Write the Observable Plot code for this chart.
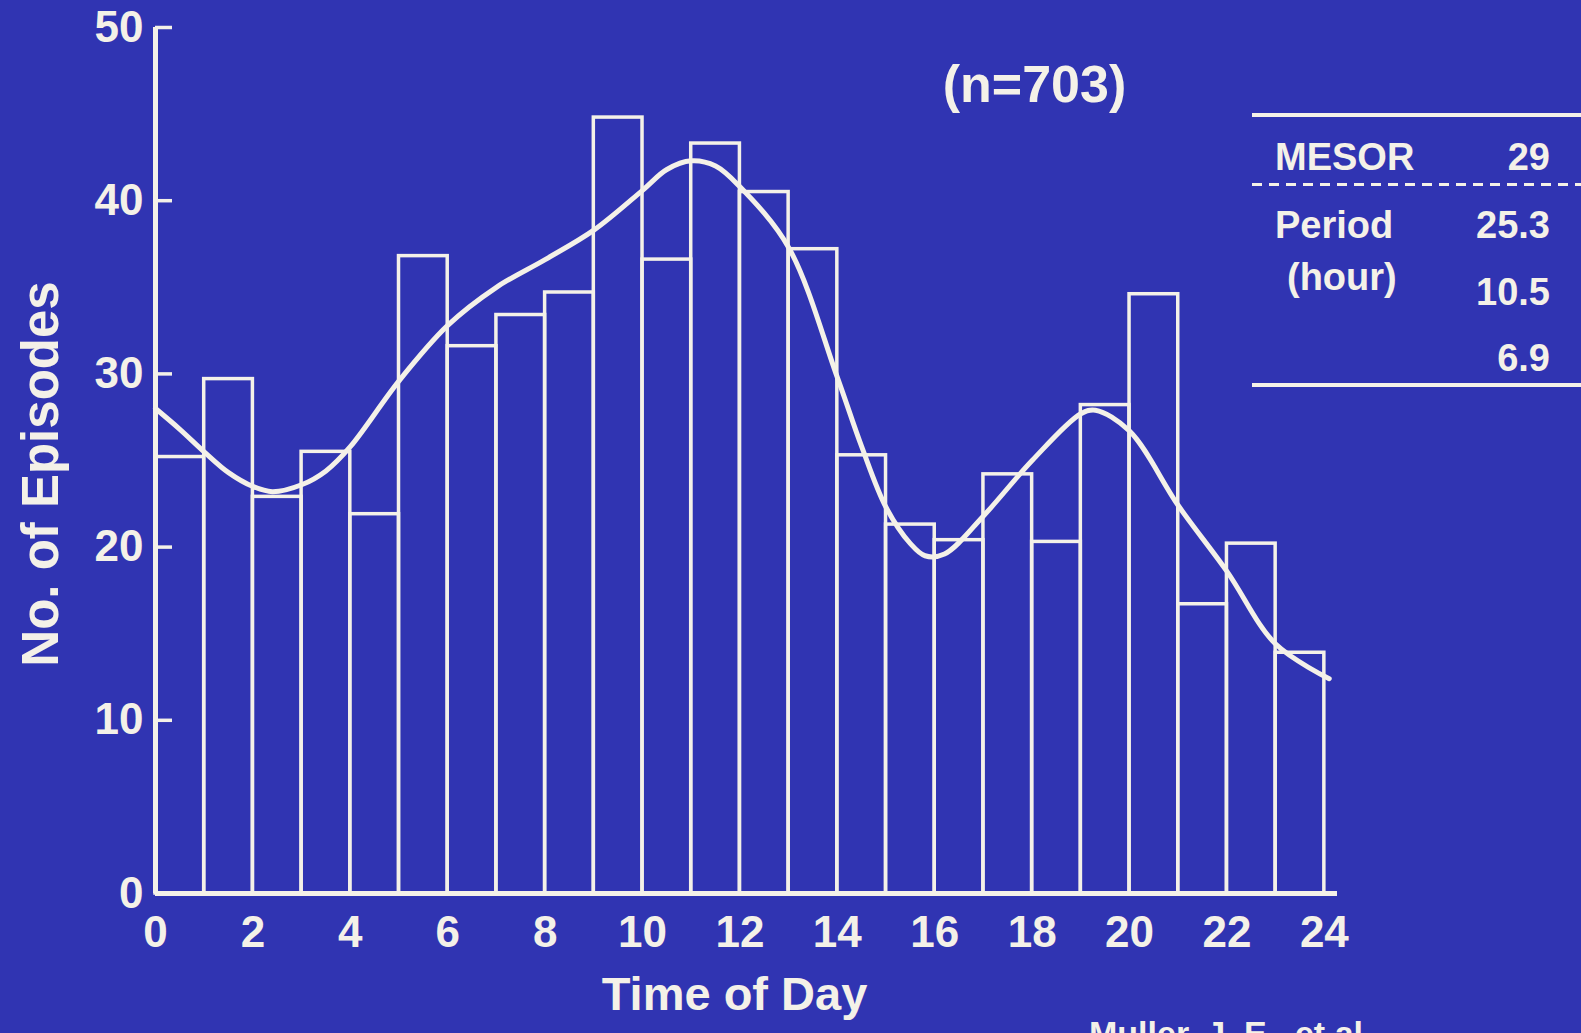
<!DOCTYPE html>
<html><head><meta charset="utf-8">
<script src="https://cdn.jsdelivr.net/npm/d3@7"></script>
<script src="https://cdn.jsdelivr.net/npm/@observablehq/plot@0.6"></script>
<style>
html,body{margin:0;padding:0;background:#3034b2;}
#page{position:relative;width:1581px;height:1033px;overflow:hidden;background:#3034b2;font-family:'Liberation Sans',Arial,sans-serif;font-weight:bold;color:#f4f1e8;}
#chart{position:absolute;left:0;top:0;}
.t{position:absolute;line-height:1;white-space:nowrap;}
.rule{position:absolute;left:1252px;right:0;}
</style></head><body><div id="page"><div id="chart"></div><div id="table"></div></div>
<script>
// Histogram: episodes per hour of day (bin start hour and count)
const hours = [0,1,2,3,4,5,6,7,8,9,10,11,12,13,14,15,16,17,18,19,20,21,22,23];
const counts = [25.2,29.7,22.9,25.5,21.9,36.8,31.6,33.4,34.7,44.8,36.6,43.3,40.5,37.2,25.3,21.3,20.4,24.2,20.3,28.2,34.6,16.7,20.2,13.9];
// Fitted multi-component cosinor curve
const curveX = [0,0.5,1,1.5,2,2.4,3,3.5,4,5,6,7,8,9,10,10.5,11,11.5,12,13,14,14.5,15,15.5,15.8,16.2,17,18,19,19.3,20,21,22,23,24.1];
const curveY = [28.0,26.8,25.5,24.3,23.5,23.2,23.6,24.4,25.8,29.6,32.8,35.0,36.6,38.3,40.6,41.8,42.3,42.0,40.8,37.3,29.8,25.8,22.3,20.2,19.5,19.6,21.8,25.0,27.7,27.9,26.7,22.4,18.6,14.4,12.4];
const yTicks = [0,10,20,30,40,50];
const xTicks = [0,2,4,6,8,10,12,14,16,18,20,22,24];
const sampleSize = "(n=703)";
const xLabel = "Time of Day";
const yLabel = "No. of Episodes";
const tableLabels = ["MESOR","Period","(hour)",""];
const tableValues = ["29","25.3","10.5","6.9"];
const caption = "Muller, J. E., et al.";

const fg = "#f4f1e8";
const font = "'Liberation Sans', Arial, sans-serif";
const bars = hours.map((h,i)=>({h, count: counts[i]}));
const curve = curveX.map((x,i)=>({x, y: curveY[i]}));

const chart = Plot.plot({
  width:1581, height:1033,
  marginLeft:155, marginRight:244, marginTop:27, marginBottom:140,
  style:{background:"transparent", color:fg, fontFamily:font, fontWeight:"bold", overflow:"visible"},
  x:{domain:[0,24.27]},
  y:{domain:[0,50]},
  marks:[
    Plot.rectY(bars,{x1:"h", x2:d=>d.h+1, y:"count", fill:"none", stroke:fg, strokeWidth:3.5}),
    Plot.line(curve,{x:"x", y:"y", curve:"catmull-rom", stroke:fg, strokeWidth:5, strokeLinecap:"round"}),
    Plot.ruleX([0],{stroke:fg, strokeWidth:5}),
    Plot.ruleY([0],{stroke:fg, strokeWidth:5}),
    Plot.axisY(yTicks.filter(v=>v>0),{tickSize:-17, tickFormat:()=>"", stroke:fg, strokeWidth:3.5, label:null}),
    Plot.axisY(yTicks,{tickSize:0, tickPadding:12, fontSize:44, label:null}),
    Plot.axisX(xTicks,{tickSize:0, tickPadding:22, fontSize:44, label:null}),
    Plot.text([sampleSize],{frameAnchor:"top", lineAnchor:"middle", dx:288, dy:58, fontSize:52, fontWeight:"bold", fill:fg}),
    Plot.text([xLabel],{frameAnchor:"bottom", lineAnchor:"middle", dx:-12, dy:101, fontSize:47, fontWeight:"bold", fill:fg})
  ]
});
document.getElementById("chart").appendChild(chart);

// Rotated y-axis title, table of cosinor parameters and caption
const tbl = document.getElementById("table");
function addText(txt, style){ const s=document.createElement("div"); s.className="t"; s.textContent=txt; Object.assign(s.style, style); tbl.appendChild(s); return s; }
function addRule(style){ const d=document.createElement("div"); d.className="rule"; Object.assign(d.style, style); tbl.appendChild(d); }
addText(yLabel,{left:"40px", top:"474px", fontSize:"51px", transform:"translate(-50%,-50%) rotate(-90deg)"});
addRule({top:"113px", height:"4px", background:fg});
addRule({top:"183px", height:"2.5px", background:`repeating-linear-gradient(to right, ${fg} 0 10px, transparent 10px 17px)`});
addRule({top:"383px", height:"4px", background:fg});
const labelTops = [138, 206, 258, 0];
const labelLefts = [1275, 1275, 1287, 1275];
const valueTops = [138, 206, 273, 339];
tableLabels.forEach((l,i)=>{ if(l) addText(l,{left:labelLefts[i]+"px", top:labelTops[i]+"px", fontSize:"38px"}); });
tableValues.forEach((v,i)=>{ addText(v,{right:"31px", top:valueTops[i]+"px", fontSize:"38px", textAlign:"right"}); });
addText(caption,{left:"1089px", top:"1016px", fontSize:"34px"});
</script>
</body></html>
